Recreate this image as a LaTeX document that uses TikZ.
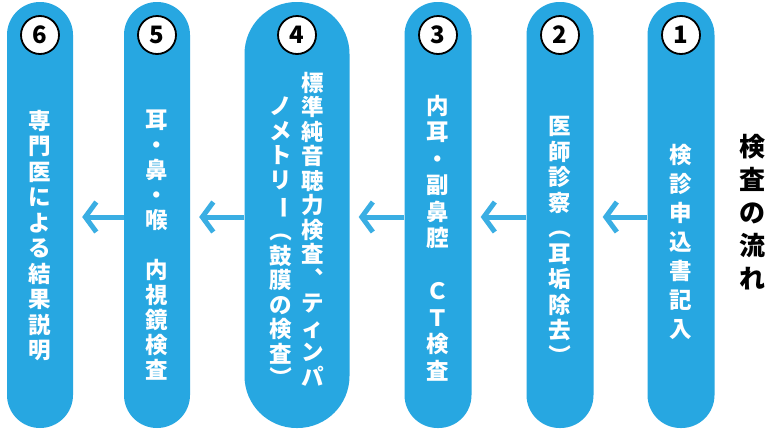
\documentclass[tikz,border=0pt]{standalone}
\usepackage{fontspec}
\usepackage{graphicx}
\newfontfamily\jp{Noto Sans CJK JP}
\usetikzlibrary{arrows.meta}
\definecolor{pillblue}{HTML}{27A7E1}
\definecolor{arrblue}{HTML}{3AAEE3}
\newcommand\vrot[1]{\rotatebox[origin=c]{-90}{#1}}
\tikzset{
  pill/.style={fill=pillblue,draw=none,rounded corners=#1,inner sep=0},
  num/.style={circle,fill=white,draw=black,line width=1.8pt,minimum size=38pt,inner sep=0,font=\jp\bfseries\fontsize{24}{24}\selectfont},
  vtext/.style={anchor=north,align=center,text=white,inner sep=0,font=\jp\bfseries\fontsize{22.5}{#1}\selectfont},
  flow/.style={draw=arrblue,line width=5pt,-{Straight Barb[length=11pt,width=30pt,line width=5pt]}}
}
\begin{document}
\begin{tikzpicture}[x=1pt,y=-1pt]
\useasboundingbox (0,0) rectangle (770,445);
\fill[white] (0,0) rectangle (770,445);
% pills
\node[pill=33pt,minimum width=66pt,minimum height=426pt] (p6) at (40,215) {};
\node[pill=33pt,minimum width=66pt,minimum height=426pt] (p5) at (157,215) {};
\node[pill=52pt,minimum width=105pt,minimum height=426pt] (p4) at (297,215) {};
\node[pill=33pt,minimum width=67pt,minimum height=426pt] (p3) at (438,215) {};
\node[pill=33pt,minimum width=67pt,minimum height=426pt] (p2) at (560,215) {};
\node[pill=33pt,minimum width=67pt,minimum height=426pt] (p1) at (681,215) {};
% numbers
\node[num] (n6) at (40,35) {6};
\node[num] (n5) at (157,35) {5};
\node[num] (n4) at (297,35) {4};
\node[num] (n3) at (438,35) {3};
\node[num] (n2) at (560,35) {2};
\node[num] (n1) at (681,35) {1};
% texts
\node[vtext=29] (t1) at (681,144) {検\\診\\申\\込\\書\\記\\入};
\node[vtext=25.5] (t2) at (560,116) {医\\師\\診\\察\\\vrot{（}\\耳\\垢\\除\\去\\\vrot{）}};
\node[vtext=26.5] (t3) at (438,95) {内\\耳\\・\\副\\鼻\\腔\\　\\Ｃ\\Ｔ\\検\\査};
\node[vtext=24.5] (t4a) at (313,72) {標\\準\\純\\音\\聴\\力\\検\\査\\︑\\テ\\ィ\\ン\\パ};
\node[vtext=24.5] (t4b) at (281,97) {ノ\\メ\\ト\\リ\\\vrot{ー}\\\vrot{（}\\鼓\\膜\\の\\検\\査\\\vrot{）}};
\node[vtext=25] (t5) at (157,110) {耳\\・\\鼻\\・\\喉\\　\\内\\視\\鏡\\検\\査};
\node[vtext=25.5] (t6) at (40,110) {専\\門\\医\\に\\よ\\る\\結\\果\\説\\明};
\node[anchor=north,align=center,inner sep=0,font=\jp\bfseries\fontsize{26}{33}\selectfont] (title) at (752,134) {検\\査\\の\\流\\れ};
% arrows
\draw[flow] (p1.west |- 0,217) -- ([xshift=9pt]p2.east |- 0,217);
\draw[flow] (p2.west |- 0,217) -- ([xshift=9pt]p3.east |- 0,217);
\draw[flow] (p3.west |- 0,217) -- ([xshift=9pt]p4.east |- 0,217);
\draw[flow] (p4.west |- 0,217) -- ([xshift=9pt]p5.east |- 0,217);
\draw[flow] (p5.west |- 0,217) -- ([xshift=9pt]p6.east |- 0,217);
\end{tikzpicture}
\end{document}
